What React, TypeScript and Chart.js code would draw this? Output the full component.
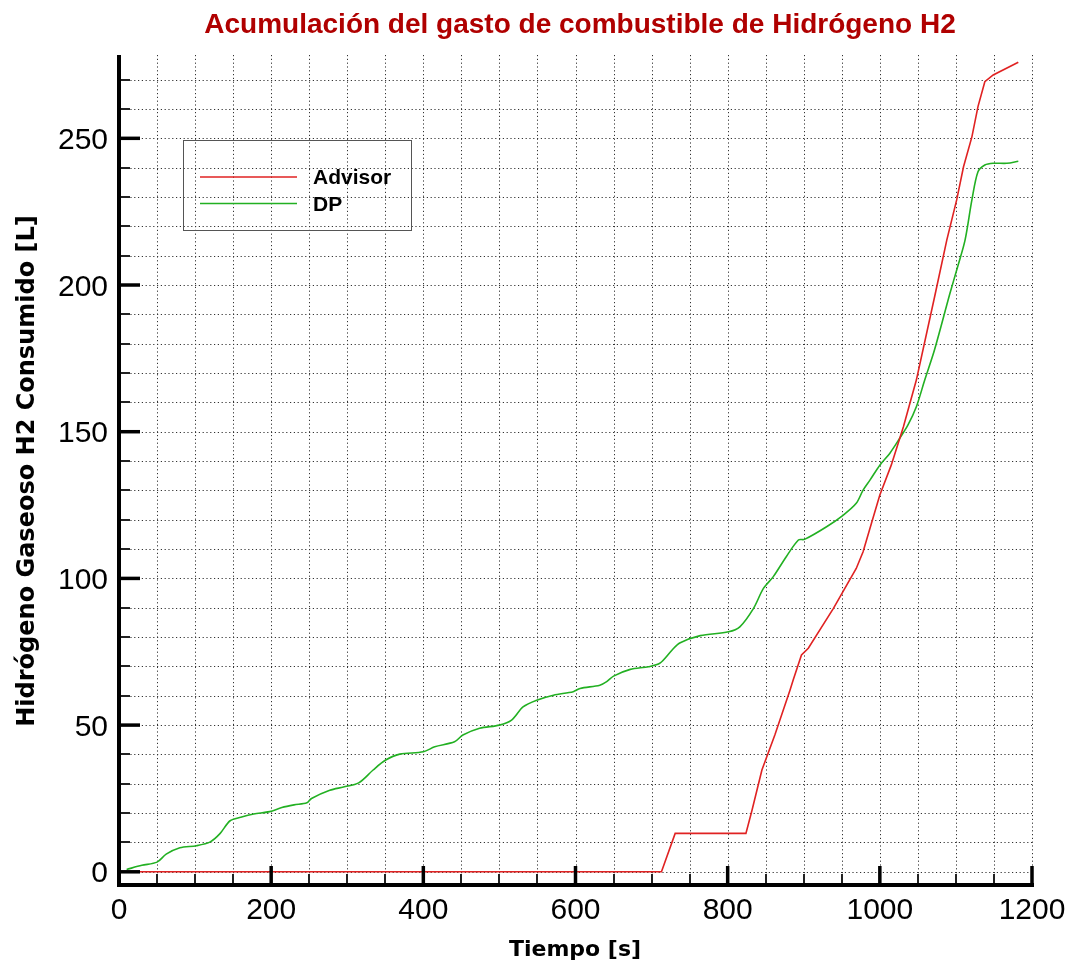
import { useEffect, useRef } from "react";
import { Chart, registerables } from "chart.js";

Chart.register(...registerables);

const chartTitle = "Acumulación del gasto de combustible de Hidrógeno H2";
const xAxisTitle = "Tiempo [s]";
const yAxisTitle = "Hidrógeno Gaseoso H2 Consumido [L]";
const seriesNames = ["Advisor", "DP"];

const advisorTime = [0, 713, 731, 824, 832, 845, 862, 882, 886, 897, 906, 939, 969, 978, 989, 1000, 1015, 1031, 1048, 1072, 1088, 1101, 1110, 1121, 1129, 1138, 1149, 1182];
const advisorH2 = [0, 0, 13.1, 13.1, 21, 34.7, 46.6, 62, 65.3, 73.9, 76.2, 89.8, 103.4, 109.1, 118.8, 128.4, 138.6, 151.7, 167.6, 196, 215.3, 229, 240.3, 250.5, 260.8, 269.3, 271.6, 275.9];

const dpTime = [10, 30, 50, 62, 80, 102, 120, 133, 146, 160, 177, 198, 214, 230, 247, 253, 277, 295, 315, 334, 350, 369, 400, 415, 441, 452, 474, 500, 516, 531, 549, 571, 597, 606, 632, 641, 650, 672, 696, 711, 727, 737, 764, 801, 816, 834, 847, 860, 877, 893, 901, 930, 952, 969, 978, 987, 1000, 1013, 1026, 1037, 1048, 1059, 1072, 1092, 1102, 1112, 1121, 1129, 1138, 1149, 1167, 1182];
const dpH2 = [0.8, 2.2, 3.3, 6, 8.2, 8.9, 10.2, 13.1, 17.4, 18.6, 19.7, 20.5, 21.9, 22.8, 23.5, 25, 27.8, 28.9, 30.3, 34.7, 38, 40.1, 40.9, 42.6, 44.3, 46.6, 48.9, 50, 51.7, 56.2, 58.5, 60.2, 61.4, 62.5, 63.6, 64.8, 66.7, 69, 69.9, 71.1, 75.6, 78, 80.5, 81.8, 83.5, 89.8, 96.6, 100.6, 107.4, 113.1, 113.3, 117.6, 121.6, 125.6, 130.1, 133.5, 138.6, 142.6, 147.7, 152.3, 158.5, 167.6, 178, 197, 206, 215.3, 229, 238.6, 240.9, 241.5, 241.5, 242.2];

const xTickLabels = [0, 200, 400, 600, 800, 1000, 1200];
const yTickLabels = [0, 50, 100, 150, 200, 250];
const xMinorStep = 50;
const yMinorStep = 10;

const RED = "#e02222";
const GREEN = "#22b022";

const decorPlugin = {
  id: "decor",
  beforeDatasetsDraw(chart: any) {
    const { ctx, chartArea, scales } = chart;
    const xs = scales.x;
    const ys = scales.y;
    ctx.save();
    ctx.strokeStyle = "#333";
    ctx.lineWidth = 1;
    ctx.setLineDash([1.2, 2.6]);
    for (let v = xMinorStep; v <= 1200; v += xMinorStep) {
      const px = Math.round(xs.getPixelForValue(v)) + 0.5;
      ctx.beginPath();
      ctx.moveTo(px, chartArea.top);
      ctx.lineTo(px, chartArea.bottom);
      ctx.stroke();
    }
    for (let v = 0; v <= 270; v += yMinorStep) {
      const py = Math.round(ys.getPixelForValue(v)) + 0.5;
      ctx.beginPath();
      ctx.moveTo(chartArea.left, py);
      ctx.lineTo(xs.getPixelForValue(1200), py);
      ctx.stroke();
    }
    ctx.restore();
  },
  afterDatasetsDraw(chart: any) {
    const { ctx, chartArea, scales } = chart;
    const xs = scales.x;
    const ys = scales.y;
    const left = chartArea.left;
    const bottom = chartArea.bottom;
    ctx.save();
    ctx.setLineDash([]);
    // minor ticks
    ctx.strokeStyle = "#222";
    ctx.lineWidth = 2;
    for (let v = xMinorStep; v < 1200; v += xMinorStep) {
      if (v % 200 === 0) continue;
      const px = Math.round(xs.getPixelForValue(v));
      ctx.beginPath();
      ctx.moveTo(px, bottom);
      ctx.lineTo(px, bottom - 11);
      ctx.stroke();
    }
    for (let v = yMinorStep; v <= 270; v += yMinorStep) {
      if (v % 50 === 0) continue;
      const py = Math.round(ys.getPixelForValue(v));
      ctx.beginPath();
      ctx.moveTo(left, py);
      ctx.lineTo(left + 11, py);
      ctx.stroke();
    }
    // major ticks
    ctx.strokeStyle = "#000";
    ctx.lineWidth = 3.5;
    xTickLabels.forEach((v) => {
      const px = xs.getPixelForValue(v);
      ctx.beginPath();
      ctx.moveTo(px, bottom);
      ctx.lineTo(px, bottom - 19);
      ctx.stroke();
    });
    yTickLabels.forEach((v) => {
      const py = ys.getPixelForValue(v);
      ctx.beginPath();
      ctx.moveTo(left, py);
      ctx.lineTo(left + 21, py);
      ctx.stroke();
    });
    // axis lines
    ctx.lineWidth = 4;
    ctx.beginPath();
    ctx.moveTo(left, chartArea.top);
    ctx.lineTo(left, bottom);
    ctx.lineTo(xs.getPixelForValue(1200) + 2, bottom);
    ctx.stroke();

    // tick labels
    ctx.fillStyle = "#000";
    ctx.font = "30px 'Liberation Sans', Arial, sans-serif";
    ctx.textBaseline = "alphabetic";
    ctx.textAlign = "center";
    xTickLabels.forEach((v) => {
      ctx.fillText(String(v), xs.getPixelForValue(v), 919);
    });
    ctx.textAlign = "right";
    yTickLabels.forEach((v) => {
      ctx.fillText(String(v), 108, ys.getPixelForValue(v) + 10.7);
    });

    // axis titles
    ctx.font = "bold 22px 'DejaVu Sans', sans-serif";
    ctx.textAlign = "center";
    ctx.fillText(xAxisTitle, 575, 956);
    ctx.save();
    ctx.translate(33.5, 471);
    ctx.rotate(-Math.PI / 2);
    ctx.font = "bold 24px 'DejaVu Sans', sans-serif";
    ctx.fillText(yAxisTitle, 0, 0);
    ctx.restore();

    // title
    ctx.fillStyle = "#b00000";
    ctx.font = "bold 28px 'Liberation Sans', Arial, sans-serif";
    ctx.fillText(chartTitle, 580, 33);

    // legend
    ctx.strokeStyle = "#555";
    ctx.lineWidth = 1;
    ctx.strokeRect(183.5, 140.5, 228, 90);
    ctx.lineWidth = 1.5;
    ctx.strokeStyle = RED;
    ctx.beginPath();
    ctx.moveTo(200, 177);
    ctx.lineTo(297, 177);
    ctx.stroke();
    ctx.strokeStyle = GREEN;
    ctx.beginPath();
    ctx.moveTo(200, 203.5);
    ctx.lineTo(297, 203.5);
    ctx.stroke();
    ctx.fillStyle = "#000";
    ctx.font = "bold 21px 'Liberation Sans', Arial, sans-serif";
    ctx.textAlign = "left";
    ctx.fillText(seriesNames[0], 313, 184);
    ctx.fillText(seriesNames[1], 313, 211);
    ctx.restore();
  },
};

export default function App() {
  const canvasRef = useRef<HTMLCanvasElement | null>(null);
  useEffect(() => {
    if (!canvasRef.current) return;
    const chart = new Chart(canvasRef.current, {
      type: "line",
      data: {
        datasets: [
          {
            label: seriesNames[0],
            data: advisorTime.map((t, i) => ({ x: t, y: advisorH2[i] })),
            borderColor: RED,
            borderWidth: 1.6,
            pointRadius: 0,
            tension: 0,
            fill: false,
          },
          {
            label: seriesNames[1],
            data: dpTime.map((t, i) => ({ x: t, y: dpH2[i] })),
            borderColor: GREEN,
            borderWidth: 1.6,
            pointRadius: 0,
            tension: 0.3,
            fill: false,
          },
        ],
      },
      options: {
        animation: false,
        responsive: false,
        devicePixelRatio: 1,
        layout: { padding: { left: 119, top: 55, right: 40, bottom: 79 } },
        plugins: { legend: { display: false }, title: { display: false }, tooltip: { enabled: false } },
        scales: {
          x: { type: "linear", min: 0, max: 1200, display: false },
          y: { type: "linear", min: -4.5, max: 278.4, display: false },
        },
      },
      plugins: [decorPlugin],
    });
    return () => chart.destroy();
  }, []);
  return (
    <div style={{ position: "absolute", left: 0, top: 0, width: 1072, height: 964, background: "#fff" }}>
      <canvas ref={canvasRef} width={1072} height={964} />
    </div>
  );
}
